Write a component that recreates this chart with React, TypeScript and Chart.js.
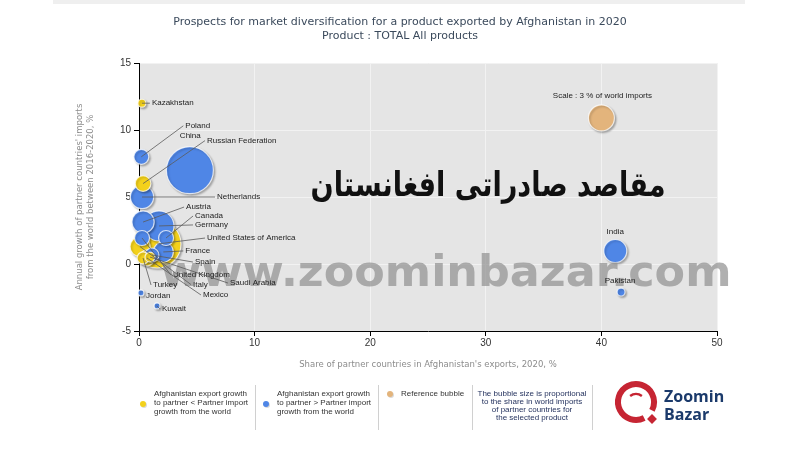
import React, { useEffect, useRef } from "react";
import { Chart, registerables } from "chart.js";
Chart.register(...registerables);

// ---------------- DATA ----------------
const countries = [
  "Kazakhstan", "Poland", "Russian Federation", "China", "Netherlands", "Austria",
  "Germany", "Canada", "United States of America", "United Kingdom", "France", "Spain",
  "Italy", "Mexico", "Turkey", "Saudi Arabia", "Jordan", "Kuwait", "India", "Pakistan",
];
// Share of partner countries in Afghanistan's exports, 2020, %
const shareOfAfghanExports = [
  0.25, 0.2, 0.35, 4.4, 0.26, 0.35, 1.73, 2.34, 1.56, 0.26, 2.1, 1.12,
  0.09, 0.69, 0.35, 0.95, 0.17, 1.56, 41.2, 41.7,
];
// Annual growth of partner countries' imports from the world 2016-2020, %
const partnerImportGrowth = [
  12.0, 8.0, 6.0, 7.0, 5.0, 3.13, 2.84, 1.94, 1.49, 1.94, 0.9, 0.67,
  1.3, 0.45, 0.45, 0.52, -2.16, -3.13, 0.97, -2.09,
];
// Share in world imports, % (bubble size)
const shareOfWorldImports = [
  0.28, 1.0, 1.1, 9.8, 2.4, 2.2, 4.0, 1.0, 10.2, 1.0, 1.8, 0.87,
  1.8, 1.1, 0.64, 0.44, 0.16, 0.16, 2.35, 0.28,
];
// true: Afghanistan export growth to partner > partner import growth (blue)
const exportsGrowFaster = [
  false, true, false, true, true, true, true, true, false, true, true, true,
  false, false, false, false, true, true, true, true,
];
const referenceShare = 3;
const referenceX = 40;
const referenceY = 10.9;
const referenceLabel = "Scale : 3 % of world imports";
const xTicks = [0, 10, 20, 30, 40, 50];
const yTicks = [-5, 0, 5, 10, 15];

const titleLines = [
  "Prospects for market diversification for a product exported by Afghanistan in 2020",
  "Product : TOTAL All products",
];
const xTitle = "Share of partner countries in Afghanistan's exports, 2020, %";
const yTitleLines = [
  "Annual growth of partner countries' imports",
  "from the world between 2016-2020, %",
];

// ---------------- LAYOUT / STYLE ----------------
const BLUE = "#4f86e6";
const YELLOW = "#f3d11c";
const TAN = "#e3b47c";
const REF_RADIUS = 13; // px radius for 3 % of world imports
const radiusFor = (share: number) => REF_RADIUS * Math.sqrt(share / referenceShare);

type LabelPos = { dx: number; dy: number; line: boolean; align?: CanvasTextAlign };
const labelLayout: Record<string, LabelPos> = {
  "Kazakhstan": { dx: 10, dy: 0, line: true },
  "Poland": { dx: 44, dy: -31, line: true },
  "Russian Federation": { dx: 64, dy: -43, line: true },
  "China": { dx: -10, dy: -34, line: false },
  "Netherlands": { dx: 75, dy: 0, line: true },
  "Austria": { dx: 43, dy: -15, line: true },
  "Germany": { dx: 36, dy: -1, line: true },
  "Canada": { dx: 29, dy: -22, line: true },
  "United States of America": { dx: 50, dy: -6, line: true },
  "United Kingdom": { dx: 31, dy: 37, line: true },
  "France": { dx: 22, dy: -1, line: true },
  "Spain": { dx: 43, dy: 7, line: true },
  "Italy": { dx: 53, dy: 38, line: true },
  "Mexico": { dx: 56, dy: 37, line: true },
  "Turkey": { dx: 10, dy: 27, line: true },
  "Saudi Arabia": { dx: 80, dy: 26, line: true },
  "Jordan": { dx: 5, dy: 3, line: false },
  "Kuwait": { dx: 5, dy: 3, line: true },
  "India": { dx: 0, dy: -19, line: false, align: "center" },
  "Pakistan": { dx: -1, dy: -11, line: false, align: "center" },
};

const scaledText = (
  ctx: CanvasRenderingContext2D, text: string, cx: number, by: number,
  targetW: number, font: string, color: string, rtl = false
) => {
  ctx.save();
  ctx.font = font;
  if (rtl) (ctx as any).direction = "rtl";
  const w = ctx.measureText(text).width;
  ctx.translate(cx, by);
  ctx.scale(targetW / w, 1);
  ctx.textAlign = "center";
  ctx.textBaseline = "alphabetic";
  ctx.fillStyle = color;
  ctx.fillText(text, 0, 0);
  ctx.restore();
};

const dot = (ctx: CanvasRenderingContext2D, x: number, y: number, color: string) => {
  ctx.save();
  ctx.fillStyle = "rgba(0,0,0,0.15)";
  ctx.beginPath();
  ctx.arc(x + 1, y + 1, 3, 0, Math.PI * 2);
  ctx.fill();
  ctx.fillStyle = color;
  ctx.beginPath();
  ctx.arc(x, y, 3, 0, Math.PI * 2);
  ctx.fill();
  ctx.restore();
};

const bgPlugin = {
  id: "bg",
  beforeDraw(chart: any) {
    const { ctx, chartArea: a } = chart;
    ctx.save();
    ctx.fillStyle = "#ffffff";
    ctx.fillRect(0, 0, chart.width, chart.height);
    ctx.fillStyle = "#efefef";
    ctx.fillRect(53, 0, 692, 4);
    ctx.fillStyle = "#e5e5e5";
    ctx.fillRect(a.left, a.top, a.right - a.left, a.bottom - a.top);
    ctx.restore();
  },
};

const shadowPlugin = {
  id: "shadow",
  beforeDatasetsDraw(chart: any) {
    const ctx = chart.ctx;
    ctx.save();
    ctx.shadowColor = "rgba(0,0,0,0.28)";
    ctx.shadowOffsetX = 1.5;
    ctx.shadowOffsetY = 1.5;
    ctx.shadowBlur = 2;
  },
  afterDatasetsDraw(chart: any) {
    chart.ctx.restore();
  },
};

const labelPlugin = {
  id: "labels",
  afterDatasetsDraw(chart: any) {
    const ctx = chart.ctx;
    const xs = chart.scales.x;
    const ys = chart.scales.y;
    // site watermark (under the labels)
    scaledText(ctx, "www.zoominbazar.com", 446, 286, 571,
      "bold 42px 'DejaVu Sans', sans-serif", "rgba(145,145,145,0.72)");
    ctx.save();
    ctx.font = "8px 'Liberation Sans', Arial, sans-serif";
    ctx.textBaseline = "middle";
    countries.forEach((name, i) => {
      const L = labelLayout[name];
      if (!L) return;
      const px = xs.getPixelForValue(shareOfAfghanExports[i]);
      const py = ys.getPixelForValue(partnerImportGrowth[i]);
      const tx = px + L.dx;
      const ty = py + L.dy;
      if (L.line) {
        ctx.strokeStyle = "#5a5a5a";
        ctx.lineWidth = 0.8;
        ctx.beginPath();
        ctx.moveTo(px, py);
        ctx.lineTo(tx - 2, ty);
        ctx.stroke();
      }
      ctx.fillStyle = "#222";
      ctx.textAlign = L.align || "left";
      ctx.fillText(name, tx, ty);
    });
    const rx = xs.getPixelForValue(referenceX);
    const ry = ys.getPixelForValue(referenceY);
    ctx.textAlign = "center";
    ctx.fillText(referenceLabel, rx + 1, ry - 22);
    ctx.restore();
  },
};

const decorPlugin = {
  id: "decor",
  afterDraw(chart: any) {
    const ctx = chart.ctx;
    const a = chart.chartArea;
    ctx.save();
    // title
    ctx.font = "11px 'DejaVu Sans', Verdana, sans-serif";
    ctx.fillStyle = "#3b4a5c";
    ctx.textAlign = "center";
    ctx.textBaseline = "middle";
    ctx.fillText(titleLines[0], 400, 22);
    ctx.fillText(titleLines[1], 400, 36);
    // axis titles
    ctx.font = "8.5px 'DejaVu Sans', Verdana, sans-serif";
    ctx.fillStyle = "#8c8c8c";
    ctx.fillText(xTitle, (a.left + a.right) / 2, 365);
    ctx.save();
    ctx.translate(85, (a.top + a.bottom) / 2);
    ctx.rotate(-Math.PI / 2);
    ctx.fillText(yTitleLines[0], 0, -5);
    ctx.fillText(yTitleLines[1], 0, 6);
    ctx.restore();

    // legend
    ctx.strokeStyle = "#d0d0d0";
    ctx.lineWidth = 1;
    [255.5, 378.5, 472.5, 592.5].forEach((x) => {
      ctx.beginPath();
      ctx.moveTo(x, 385);
      ctx.lineTo(x, 430);
      ctx.stroke();
    });
    dot(ctx, 143, 404, YELLOW);
    dot(ctx, 266, 404, BLUE);
    dot(ctx, 390, 394, TAN);
    ctx.font = "8px 'Liberation Sans', Arial, sans-serif";
    ctx.fillStyle = "#333";
    ctx.textAlign = "left";
    const l1 = ["Afghanistan export growth", "to partner < Partner import", "growth from the world"];
    const l2 = ["Afghanistan export growth", "to partner > Partner import", "growth from the world"];
    l1.forEach((t, k) => ctx.fillText(t, 154, 394 + k * 9));
    l2.forEach((t, k) => ctx.fillText(t, 277, 394 + k * 9));
    ctx.fillText("Reference bubble", 401, 394);
    ctx.fillStyle = "#1f2d5a";
    ctx.textAlign = "center";
    ["The bubble size is proportional", "to the share in world imports", "of partner countries for", "the selected product"]
      .forEach((t, k) => ctx.fillText(t, 532, 394 + k * 8));

    // logo
    ctx.strokeStyle = "#c62533";
    ctx.lineWidth = 6;
    ctx.beginPath();
    ctx.arc(636, 402, 18, Math.PI * 0.35, Math.PI * 0.2 + Math.PI * 2 - 0.15);
    ctx.stroke();
    ctx.lineWidth = 2.5;
    ctx.beginPath();
    ctx.arc(636, 404, 10, Math.PI * 1.3, Math.PI * 1.7);
    ctx.stroke();
    ctx.fillStyle = "#c62533";
    ctx.save();
    ctx.translate(652, 419);
    ctx.rotate(Math.PI / 4);
    ctx.fillRect(-3.5, -3.5, 7, 7);
    ctx.restore();
    ctx.fillStyle = "#1b3a6b";
    ctx.textAlign = "left";
    ctx.textBaseline = "alphabetic";
    ctx.font = "bold 16px 'Open Sans', 'DejaVu Sans', sans-serif";
    ctx.fillText("Zoomin", 664, 402);
    ctx.fillText("Bazar", 664, 420);

    // Persian watermark title
    scaledText(ctx, "مقاصد صادراتی افغانستان", 488, 196, 355,
      "bold 34px 'DejaVu Sans', sans-serif", "#111111", true);
    ctx.restore();
  },
};

export default function App() {
  const ref = useRef<HTMLCanvasElement | null>(null);
  useEffect(() => {
    if (!ref.current) return;
    const idx = countries.map((_, i) => i).sort((a, b) => shareOfWorldImports[b] - shareOfWorldImports[a]);
    const points = idx.map((i) => ({
      x: shareOfAfghanExports[i],
      y: partnerImportGrowth[i],
      r: radiusFor(shareOfWorldImports[i]),
    }));
    const colors = idx.map((i) => (exportsGrowFaster[i] ? BLUE : YELLOW));
    const tickFont = { family: "'Liberation Sans', Arial, sans-serif", size: 10 };
    const chart = new Chart(ref.current, {
      type: "bubble",
      data: {
        datasets: [
          {
            label: "countries",
            data: points,
            backgroundColor: colors,
            borderColor: "rgba(255,255,255,0.75)",
            borderWidth: 1.2,
            clip: false as any,
          },
          {
            label: "reference",
            data: [{ x: referenceX, y: referenceY, r: radiusFor(referenceShare) }],
            backgroundColor: TAN,
            borderColor: "rgba(255,255,255,0.75)",
            borderWidth: 1.2,
            clip: false as any,
          },
        ],
      },
      options: {
        responsive: false,
        animation: false,
        devicePixelRatio: 1,
        events: [],
        layout: { padding: { left: 99, top: 63, right: 83, bottom: 99 } },
        plugins: { legend: { display: false }, tooltip: { enabled: false }, title: { display: false } },
        scales: {
          x: {
            type: "linear",
            min: xTicks[0],
            max: xTicks[xTicks.length - 1],
            afterBuildTicks: (s: any) => { s.ticks = xTicks.map((v) => ({ value: v })); },
            afterFit: (s: any) => { s.height = 20; },
            grid: { color: "#f2f2f2", tickColor: "#000", tickLength: 5, lineWidth: 1 },
            border: { color: "#000", width: 1 },
            ticks: { font: tickFont, color: "#333", padding: 1, maxRotation: 0 },
          },
          y: {
            type: "linear",
            min: yTicks[0],
            max: yTicks[yTicks.length - 1],
            afterBuildTicks: (s: any) => { s.ticks = yTicks.map((v) => ({ value: v })); },
            afterFit: (s: any) => { s.width = 40; },
            grid: { color: "#f2f2f2", tickColor: "#000", tickLength: 5, lineWidth: 1 },
            border: { color: "#000", width: 1 },
            ticks: { font: tickFont, color: "#333", padding: 3 },
          },
        },
      },
      plugins: [bgPlugin, shadowPlugin, labelPlugin, decorPlugin],
    });
    return () => chart.destroy();
  }, []);
  return (
    <div style={{ position: "fixed", left: 0, top: 0, width: 800, height: 450, background: "#fff" }}>
      <canvas ref={ref} width={800} height={450} style={{ display: "block", width: 800, height: 450 }} />
    </div>
  );
}
